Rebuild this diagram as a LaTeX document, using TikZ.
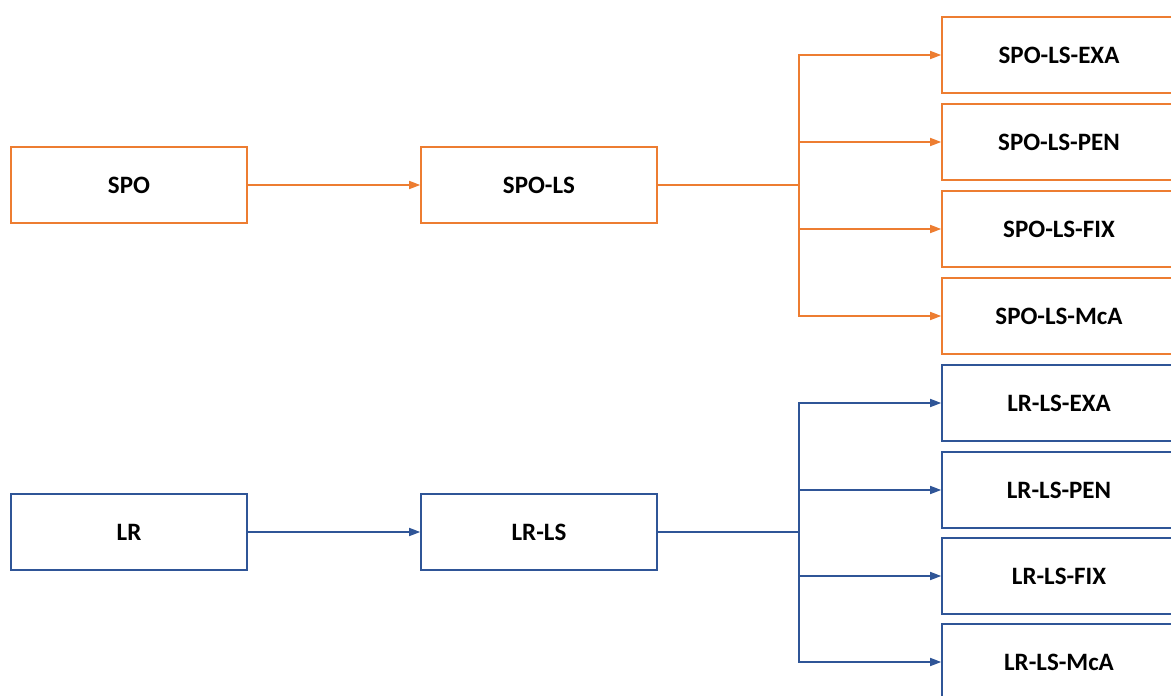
\documentclass[tikz,border=0pt]{standalone}
\usepackage{fontspec}
\setmainfont{Carlito}
\usetikzlibrary{arrows.meta}
\definecolor{orangeline}{HTML}{ED7D31}
\definecolor{blueline}{HTML}{2F5597}
\tikzset{
  box/.style={draw, line width=1.6pt, fill=white, minimum height=76pt, inner sep=0pt,
    font=\fontsize{25}{30}\selectfont\bfseries, text=black},
  leftbox/.style={box, minimum width=236pt},
  rightbox/.style={box, minimum width=234pt},
  link/.style={line width=1.6pt, -{Triangle[length=11pt,width=8pt]}},
  trunk/.style={line width=1.6pt},
  orangeset/.style={draw=orangeline},
  blueset/.style={draw=blueline},
}
\begin{document}
\begin{tikzpicture}[x=1pt,y=-1pt]
\useasboundingbox (0,0) rectangle (1171,696);
\clip (0,0) rectangle (1171,696);

% upper chain
\node[leftbox, orangeset] (spo) at (129,185) {SPO};
\node[leftbox, orangeset] (spols) at (539,185) {SPO-LS};
\node[rightbox, orangeset] (exa1) at (1059,55) {SPO-LS-EXA};
\node[rightbox, orangeset] (pen1) at (1059,142) {SPO-LS-PEN};
\node[rightbox, orangeset] (fix1) at (1059,229) {SPO-LS-FIX};
\node[rightbox, orangeset] (mca1) at (1059,316) {SPO-LS-McA};
\coordinate (fork1) at (799,185);

\draw[link, orangeline] (spo.east) -- (spols.west);
\draw[trunk, orangeline] (spols.east) -- (fork1);
\foreach \t in {exa1,pen1,fix1,mca1}
  \draw[link, orangeline, line join=miter] (fork1) |- (\t.west);

% lower chain
\node[leftbox, blueset] (lr) at (129,532) {LR};
\node[leftbox, blueset] (lrls) at (539,532) {LR-LS};
\node[rightbox, blueset] (exa2) at (1059,403) {LR-LS-EXA};
\node[rightbox, blueset] (pen2) at (1059,490) {LR-LS-PEN};
\node[rightbox, blueset] (fix2) at (1059,576) {LR-LS-FIX};
\node[rightbox, blueset] (mca2) at (1059,662) {LR-LS-McA};
\coordinate (fork2) at (799,532);

\draw[link, blueline] (lr.east) -- (lrls.west);
\draw[trunk, blueline] (lrls.east) -- (fork2);
\foreach \t in {exa2,pen2,fix2,mca2}
  \draw[link, blueline, line join=miter] (fork2) |- (\t.west);
\end{tikzpicture}
\end{document}
